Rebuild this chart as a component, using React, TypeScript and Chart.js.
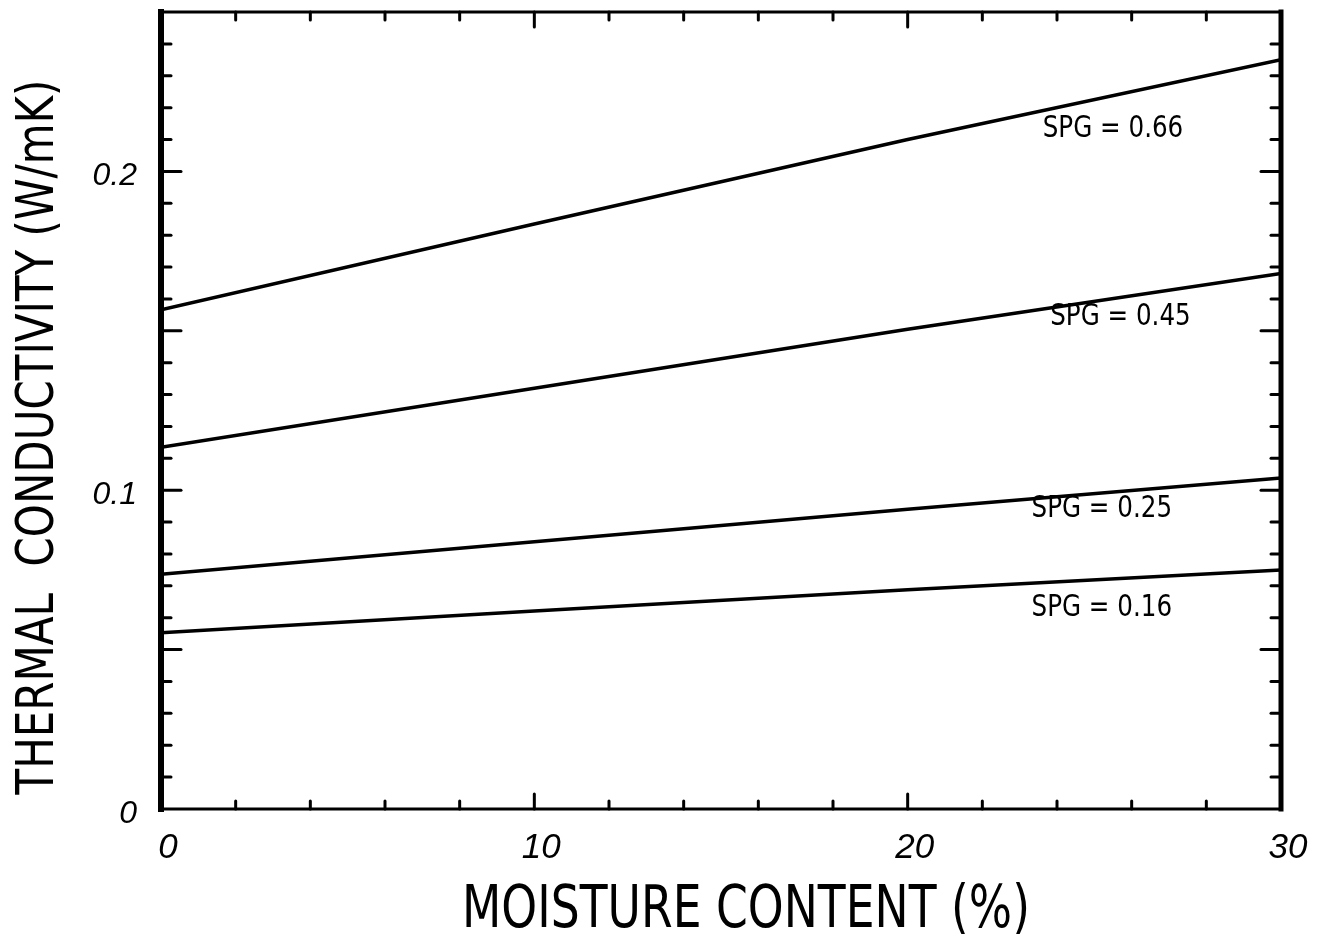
import { useEffect, useRef } from "react";
import { Chart, registerables } from "chart.js";

Chart.register(...registerables);

// Moisture content (%) at which each curve is sampled
const moisture = [0, 10, 20, 30];

// Thermal conductivity (W/mK) for each specific gravity
const spg066 = [0.1566, 0.1835, 0.21, 0.235];
const spg045 = [0.1135, 0.132, 0.1505, 0.168];
const spg025 = [0.0736, 0.0838, 0.094, 0.1038];
const spg016 = [0.0553, 0.0621, 0.0688, 0.075];

const seriesNames = ["SPG = 0.66", "SPG = 0.45", "SPG = 0.25", "SPG = 0.16"];
const seriesValues = [spg066, spg045, spg025, spg016];

// Where each curve's label sits, in data units
const labelMoisture = [25.5, 25.7, 25.2, 25.2];
const labelConductivity = [0.2133, 0.1542, 0.0941, 0.0629];

// Axis tick labels
const xTickValues = [0, 10, 20, 30];
const xTickTexts = ["0", "10", "20", "30"];
const yTickValues = [0, 0.1, 0.2];
const yTickTexts = ["0", "0.1", "0.2"];

const xTitle = "MOISTURE CONTENT (%)";
const yTitle = "THERMAL  CONDUCTIVITY (W/mK)";

const W = 1322;
const H = 934;

// Draws the boxed frame, inward tick marks, axis titles and curve labels
const decorations = {
  id: "decorations",
  afterDatasetsDraw(chart: any) {
    const { ctx, chartArea: a, scales } = chart;
    const xs = scales.x;
    const ys = scales.y;
    const seg = (x1: number, y1: number, x2: number, y2: number) => {
      ctx.beginPath();
      ctx.moveTo(x1, y1);
      ctx.lineTo(x2, y2);
      ctx.stroke();
    };
    ctx.save();
    ctx.strokeStyle = "#000";
    ctx.fillStyle = "#000";

    // tick marks on all four sides, pointing into the plot
    ctx.lineCap = "round";
    ctx.lineWidth = 3;
    for (let v = 2; v < 30; v += 2) {
      const px = xs.getPixelForValue(v);
      const len = v % 10 === 0 ? 15 : 8;
      seg(px, a.bottom, px, a.bottom - len);
      seg(px, a.top, px, a.top + len);
    }
    for (let i = 1; i < 25; i++) {
      const py = ys.getPixelForValue(i / 100);
      const len = i % 5 === 0 ? 20 : 10;
      seg(a.left, py, a.left + len, py);
      seg(a.right, py, a.right - len, py);
    }

    // frame
    ctx.lineCap = "square";
    ctx.lineWidth = 3;
    seg(a.left, a.top, a.right, a.top);
    seg(a.left, a.bottom, a.right, a.bottom);
    ctx.lineWidth = 6;
    seg(a.left, a.top, a.left, a.bottom);
    ctx.lineWidth = 5;
    seg(a.right, a.top, a.right, a.bottom);

    // curve labels
    ctx.font = "30px 'DejaVu Sans'";
    ctx.textAlign = "center";
    ctx.textBaseline = "middle";
    seriesNames.forEach((name, i) => {
      const px = xs.getPixelForValue(labelMoisture[i]);
      const py = ys.getPixelForValue(labelConductivity[i]);
      ctx.save();
      ctx.translate(px, py);
      ctx.scale(0.82, 1);
      ctx.fillText(name, 0, 0);
      ctx.restore();
    });

    // axis titles, drawn narrow like stencil lettering
    ctx.textBaseline = "alphabetic";
    ctx.font = "58px 'DejaVu Sans'";
    let w = ctx.measureText(xTitle).width;
    ctx.save();
    ctx.translate(746, 927);
    ctx.scale(568 / w, 1);
    ctx.fillText(xTitle, 0, 0);
    ctx.restore();

    ctx.font = "52px 'DejaVu Sans'";
    w = ctx.measureText(yTitle).width;
    ctx.save();
    ctx.translate(53, 437);
    ctx.rotate(-Math.PI / 2);
    ctx.scale(715 / w, 1);
    ctx.fillText(yTitle, 0, 0);
    ctx.restore();

    ctx.restore();
  },
};

function tickText(values: number[], texts: string[], v: number) {
  const i = values.findIndex((t) => Math.abs(t - v) < 1e-6);
  return i >= 0 ? texts[i] : null;
}

export default function App() {
  const ref = useRef<HTMLCanvasElement | null>(null);

  useEffect(() => {
    if (!ref.current) return;
    const chart = new Chart(ref.current, {
      type: "line",
      data: {
        datasets: seriesValues.map((vals, i) => ({
          label: seriesNames[i],
          data: moisture.map((m, j) => ({ x: m, y: vals[j] })),
          borderColor: "#000",
          borderWidth: 3.5,
          pointRadius: 0,
          fill: false,
          tension: 0,
        })),
      },
      options: {
        animation: false,
        responsive: false,
        devicePixelRatio: 1,
        layout: { padding: { left: 0, right: 41, top: 12, bottom: 0 } },
        plugins: {
          legend: { display: false },
          tooltip: { enabled: false },
        },
        scales: {
          x: {
            type: "linear",
            min: 0,
            max: 30,
            grid: { display: false, drawTicks: false },
            border: { display: false },
            ticks: {
              stepSize: 10,
              padding: 18,
              labelOffset: 7,
              color: "#000",
              font: { family: "'Liberation Sans'", size: 35, style: "italic" },
              callback: (v: any) => tickText(xTickValues, xTickTexts, Number(v)),
            },
            afterFit: (s: any) => {
              s.height = H - 809;
              s.paddingLeft = 0;
              s.paddingRight = 0;
            },
          },
          y: {
            type: "linear",
            min: 0,
            max: 0.25,
            grid: { display: false, drawTicks: false },
            border: { display: false },
            ticks: {
              stepSize: 0.05,
              includeBounds: false,
              padding: 24,
              labelOffset: 5,
              color: "#000",
              font: { family: "'Liberation Sans'", size: 32, style: "italic" },
              callback: (v: any) => tickText(yTickValues, yTickTexts, Number(v)),
            },
            afterFit: (s: any) => {
              s.width = 161;
              s.paddingTop = 0;
              s.paddingBottom = 0;
            },
          },
        },
      },
      plugins: [decorations],
    });
    return () => chart.destroy();
  }, []);

  return (
    <div
      style={{
        position: "fixed",
        left: 0,
        top: 0,
        width: W,
        height: H,
        background: "#fff",
      }}
    >
      <canvas ref={ref} width={W} height={H} style={{ display: "block" }} />
    </div>
  );
}
